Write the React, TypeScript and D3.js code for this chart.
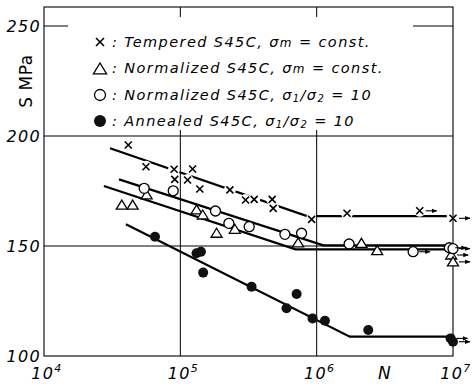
import React from "react";
import * as d3 from "d3";

// S-N fatigue data for S45C steel: [N cycles, S (MPa), runout 0/1]
const tempered: [number, number, number][] = [
  [41500, 195.9, 0], [56000, 186.0, 0], [90000, 184.9, 0], [91000, 180.3, 0],
  [123000, 185.0, 0], [113000, 180.0, 0], [139000, 175.9, 0], [231000, 175.5, 0],
  [301000, 170.9, 0], [348000, 171.2, 0], [472000, 171.2, 0], [480000, 167.1, 0],
  [918000, 162.1, 0], [1670000, 164.9, 0], [5700000, 166.0, 1], [10000000, 162.6, 1],
];
const normConst: [number, number, number][] = [
  [37200, 168.6, 0], [44700, 168.6, 0], [56600, 173.2, 0], [131500, 166.4, 0],
  [146000, 164.1, 0], [184500, 155.8, 0], [251000, 157.6, 0], [731000, 151.4, 0],
  [2130000, 151.2, 0], [2780000, 147.9, 0], [9700000, 145.9, 1], [10000000, 142.8, 1],
];
const normRatio: [number, number, number][] = [
  [54300, 176.2, 0], [88700, 175.1, 0], [181000, 165.9, 0], [227000, 160.3, 0],
  [320000, 158.8, 0], [585000, 155.3, 0], [775000, 155.8, 0], [1730000, 150.9, 0],
  [5100000, 147.4, 1], [9400000, 149.2, 1], [10000000, 148.8, 1],
];
const annealed: [number, number, number][] = [
  [65200, 154.2, 0], [131500, 146.7, 0], [141600, 147.4, 0], [147000, 137.9, 0],
  [333000, 131.5, 0], [713000, 128.2, 0], [601000, 121.7, 0], [933000, 117.1, 0],
  [1150000, 116.0, 0], [2390000, 111.8, 0], [9600000, 108.0, 1], [10000000, 106.5, 1],
];

// fitted S-N lines
const temperedLine: [number, number][] = [[30500, 194.4], [850000, 163.6], [9000000, 163.6]];
const normRatioLine: [number, number][] = [[35500, 180.3], [1120000, 150.3], [10000000, 150.3]];
const normConstLine: [number, number][] = [[27500, 177.3], [700000, 148.5], [10000000, 148.5]];
const annealedLine: [number, number][] = [[39900, 159.9], [1750000, 108.8], [10000000, 108.8]];

const yTicks = [100, 150, 200, 250];
const xTicks = [1e4, 1e5, 1e6, 1e7];

const W = 474;
const H = 387;
const FONT = "'DejaVu Sans', sans-serif";

const App = () => {
  const x = d3.scaleLog().domain([1e4, 1e7]).range([44, 453]);
  const y = d3.scaleLinear().domain([100, 250]).range([356, 26]);
  const top = 7;
  const line = d3
    .line<[number, number]>()
    .x((d) => x(d[0]))
    .y((d) => y(d[1]));

  const cross = (cx: number, cy: number, s: number, k: string) => (
    <path
      key={k}
      d={`M${cx - s},${cy - s}L${cx + s},${cy + s}M${cx - s},${cy + s}L${cx + s},${cy - s}`}
      stroke="#000"
      strokeWidth={1.6}
    />
  );
  const tri = (cx: number, cy: number, s: number, k: string) => (
    <path
      key={k}
      d={`M${cx},${cy - s}L${cx + s * 1.1},${cy + s * 0.8}L${cx - s * 1.1},${cy + s * 0.8}Z`}
      fill="#fff"
      stroke="#000"
      strokeWidth={1.3}
    />
  );

  const arrows = (pts: [number, number, number][], key: string) =>
    pts
      .filter((d) => d[2])
      .map((d, i) => (
        <line
          key={key + i}
          x1={x(d[0]) + 6}
          x2={x(d[0]) + 17}
          y1={y(d[1])}
          y2={y(d[1])}
          stroke="#000"
          strokeWidth={1.1}
          markerEnd="url(#arr)"
        />
      ));

  return (
    <svg
      width={W}
      height={H}
      style={{ position: "absolute", left: 0, top: 0, background: "#fff" }}
      fontFamily={FONT}
    >
      <defs>
        <marker id="arr" viewBox="0 0 10 10" refX="9" refY="5" markerWidth="5" markerHeight="5" orient="auto">
          <path d="M0,1L10,5L0,9Z" fill="#000" />
        </marker>
      </defs>
      <rect width={W} height={H} fill="#fff" />

      {/* tempered line, broken around its markers */}
      <path d={line(temperedLine) || ""} fill="none" stroke="#000" strokeWidth={2.2} />
      {tempered.map((d, i) => (
        <circle key={"h" + i} cx={x(d[0])} cy={y(d[1])} r={6} fill="#fff" />
      ))}

      {/* grid */}
      {[150, 200, 250].map((v) => (
        <line key={"gy" + v} x1={44} x2={453} y1={y(v)} y2={y(v)} stroke="#000" strokeWidth={1} />
      ))}
      {[1e5, 1e6].map((v) => (
        <line key={"gx" + v} x1={x(v)} x2={x(v)} y1={top} y2={356} stroke="#000" strokeWidth={1} />
      ))}

      {/* frame */}
      <rect x={44} y={top} width={409} height={356 - top} fill="none" stroke="#000" strokeWidth={1.1} />

      {/* fitted lines */}
      {[normRatioLine, normConstLine, annealedLine].map((l, i) => (
        <path key={"l" + i} d={line(l) || ""} fill="none" stroke="#000" strokeWidth={2.2} />
      ))}

      {/* markers */}
      {tempered.map((d, i) => cross(x(d[0]), y(d[1]), 3.5, "t" + i))}
      {normConst.map((d, i) => tri(x(d[0]), y(d[1]), 5, "n" + i))}
      {normRatio.map((d, i) => (
        <circle key={"c" + i} cx={x(d[0])} cy={y(d[1])} r={5} fill="#fff" stroke="#000" strokeWidth={1.3} />
      ))}
      {annealed.map((d, i) => (
        <circle key={"a" + i} cx={x(d[0])} cy={y(d[1])} r={5} fill="#111" />
      ))}
      {arrows(tempered, "at")}
      {arrows(normConst, "an")}
      {arrows(normRatio, "ar")}
      {arrows(annealed, "aa")}

      {/* legend */}
      <rect x={68} y={17} width={345} height={113} fill="#fff" />
      <g fontSize={14.5} fontStyle="italic" letterSpacing={1.4} fill="#000">
        {cross(100, 42, 4, "lg1")}
        <text x={112} y={47}>
          : Tempered S45C, σ<tspan fontSize={12}>m</tspan> = const.
        </text>
        {tri(100, 69, 6, "lg2")}
        <text x={112} y={73}>
          : Normalized S45C, σ<tspan fontSize={12}>m</tspan> = const.
        </text>
        <circle cx={100} cy={95} r={5.5} fill="#fff" stroke="#000" strokeWidth={1.3} />
        <text x={112} y={100}>
          : Normalized S45C, σ<tspan fontSize={10} dy={2}>1</tspan>
          <tspan dy={-2}>/σ</tspan>
          <tspan fontSize={10} dy={2}>2</tspan>
          <tspan dy={-2}> = 10</tspan>
        </text>
        <circle cx={100} cy={121} r={6} fill="#111" />
        <text x={112} y={126}>
          : Annealed S45C, σ<tspan fontSize={10} dy={2}>1</tspan>
          <tspan dy={-2}>/σ</tspan>
          <tspan fontSize={10} dy={2}>2</tspan>
          <tspan dy={-2}> = 10</tspan>
        </text>
      </g>

      {/* axes labels */}
      <g fontSize={16} fontStyle="italic" letterSpacing={1.3}>
        {yTicks.map((v) => (
          <text key={"yt" + v} x={41} y={y(v) + 6} textAnchor="end">
            {v}
          </text>
        ))}
        {xTicks.map((v) => (
          <text key={"xt" + v} x={x(v) + 3} y={379} textAnchor="middle">
            10<tspan fontSize={11} dy={-7}>{Math.round(Math.log10(v))}</tspan>
          </text>
        ))}
        <text x={385} y={379} textAnchor="middle" fontSize={17}>N</text>
      </g>
      <text
        transform="translate(32,81) rotate(-90)"
        textAnchor="middle"
        fontSize={17}
        letterSpacing={0.5}
      >
        S MPa
      </text>
    </svg>
  );
};

export default App;
